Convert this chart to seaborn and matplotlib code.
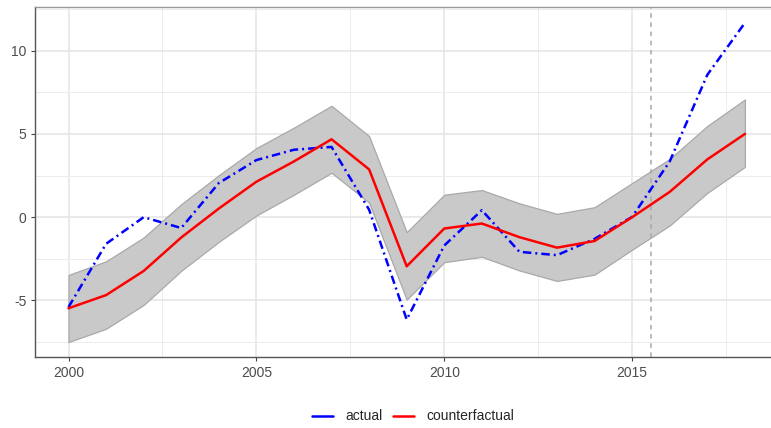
import numpy as np
import pandas as pd
import matplotlib
matplotlib.use("Agg")
import matplotlib.pyplot as plt
from matplotlib.lines import Line2D
from matplotlib.ticker import MultipleLocator
import seaborn as sns

# Annual series
years = list(range(2000, 2019))
actual = [-5.4, -1.6, 0.0, -0.65, 2.05, 3.43, 4.05, 4.22, 0.45, -6.15,
          -1.7, 0.42, -2.08, -2.28, -1.3, 0.02, 3.35, 8.55, 11.67]
counterfactual = [-5.47, -4.68, -3.23, -1.22, 0.52, 2.13, 3.35, 4.68, 2.87, -2.95,
                  -0.68, -0.38, -1.2, -1.83, -1.43, 0.0, 1.52, 3.47, 5.0]
band_upper = [-3.47, -2.65, -1.22, 0.78, 2.52, 4.15, 5.38, 6.69, 4.87, -0.9,
              1.35, 1.63, 0.83, 0.2, 0.6, 2.05, 3.5, 5.48, 7.07]
band_lower = [-7.5, -6.7, -5.27, -3.22, -1.48, 0.1, 1.35, 2.67, 0.87, -4.95,
              -2.7, -2.38, -3.2, -3.83, -3.45, -1.95, -0.5, 1.46, 3.02]
policy_break = 2015.5

series_names = ["actual", "counterfactual"]
series_colors = {"actual": "#0000ff", "counterfactual": "#ff0000"}

df = pd.DataFrame({
    "year": years * 2,
    "value": actual + counterfactual,
    "series": ["actual"] * len(years) + ["counterfactual"] * len(years),
})

sns.set_theme(style="whitegrid")
plt.rcParams["font.family"] = ["Liberation Sans", "DejaVu Sans"]
plt.rcParams["axes.unicode_minus"] = False

fig = plt.figure(figsize=(7.71, 4.28), dpi=100)
ax = fig.add_axes([0.045, 0.165, 0.965, 0.8185])

ax.fill_between(years, band_lower, band_upper, facecolor="#c9c9c9",
                edgecolor="#a9a9a9", linewidth=0.9, zorder=2)

sns.lineplot(data=df, x="year", y="value", hue="series", style="series",
             palette=series_colors,
             dashes={"actual": (3.4, 1.6, 0.8, 1.6), "counterfactual": ""},
             linewidth=1.8, legend=False, ax=ax, zorder=3)

ax.axvline(policy_break, color="#a8a8a8", linestyle=(0, (3, 3)),
           linewidth=1.1, zorder=2.5)

ax.set_xlim(1999.1, 2018.9)
ax.set_ylim(-8.42, 12.62)
ax.xaxis.set_major_locator(MultipleLocator(5))
ax.xaxis.set_minor_locator(MultipleLocator(2.5))
ax.yaxis.set_major_locator(MultipleLocator(5))
ax.yaxis.set_minor_locator(MultipleLocator(2.5))
ax.set_xticks([2000, 2005, 2010, 2015])
ax.set_xticklabels(["2000", "2005", "2010", "2015"])

ax.grid(which="major", color="#e4e4e4", linewidth=1.1, zorder=0)
ax.grid(which="minor", color="#ececec", linewidth=0.7, zorder=0)
ax.set_axisbelow(True)

ax.set_xlabel("")
ax.set_ylabel("")
ax.tick_params(which="major", axis="both", length=3, width=0.8, color="#444444",
               labelsize=10, labelcolor="#4d4d4d", pad=3, left=True, bottom=True)
ax.tick_params(which="minor", length=0)

for side in ["left", "bottom"]:
    ax.spines[side].set_color("#555555")
    ax.spines[side].set_linewidth(1.0)
ax.spines["top"].set_color("#9a9a9a")
ax.spines["top"].set_linewidth(1.0)
ax.spines["right"].set_visible(False)

handles = [Line2D([0], [0], color=series_colors[n], linewidth=1.8) for n in series_names]
fig.legend(handles, series_names, loc="center", bbox_to_anchor=(0.536, 0.027),
           ncol=2, frameon=False, fontsize=10, handlelength=1.5,
           columnspacing=0.8, handletextpad=0.85)

fig.savefig("out.png", dpi=100)
